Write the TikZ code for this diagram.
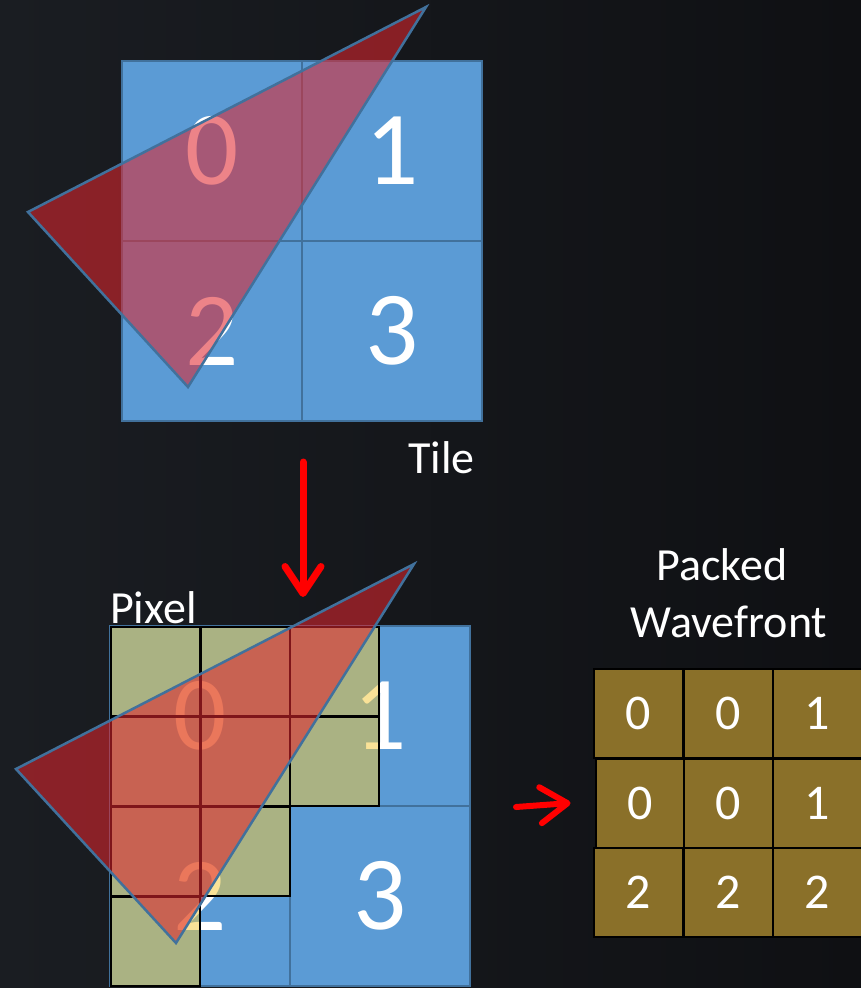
\documentclass[tikz,border=0pt]{standalone}
\usepackage{fontspec}
\setmainfont{Carlito}
\usetikzlibrary{arrows.meta}
\definecolor{bgL}{HTML}{1A1D22}
\definecolor{bgR}{HTML}{0F1013}
\definecolor{tileblue}{HTML}{5B9BD5}
\definecolor{tileedge}{HTML}{41719C}
\definecolor{trired}{HTML}{E0262E}
\definecolor{pixgold}{HTML}{F4C838}
\definecolor{wavegold}{HTML}{8A7029}
\begin{document}
\begin{tikzpicture}[x=1pt,y=-1pt,
 quad/.style={draw=tileedge, line width=1.5pt, fill=tileblue, minimum width=180pt, minimum height=180pt, inner sep=0pt, outer sep=0pt, text=white, font=\fontsize{105}{105}\selectfont},
 pix/.style={draw=black, line width=2pt, fill=pixgold, fill opacity=0.52, minimum size=89pt, inner sep=0pt, outer sep=0pt},
 tri/.style={fill=trired, fill opacity=0.57, draw=tileedge, line width=2.5pt, line join=miter},
 wcell/.style={draw=black, line width=2pt, fill=wavegold, minimum size=89pt, inner sep=0pt, outer sep=0pt, text=white, font=\fontsize{50}{50}\selectfont},
 lbl/.style={text=white, font=\fontsize{46}{46}\selectfont, inner sep=0pt},
 redarrow/.style={draw=red, line width=7pt, line cap=round, -{Straight Barb[length=27pt,width=36pt,round]}}
]
\useasboundingbox (0,0) rectangle (861,988);
\shade[left color=bgL, right color=bgR] (0,0) rectangle (861,988);

% ---- top tile
\node[quad] (t0) at (212,151) {0};
\node[quad] (t1) at (392,151) {1};
\node[quad] (t2) at (212,331) {2};
\node[quad] (t3) at (392,331) {3};
\coordinate (ta) at (426,7);
\coordinate (tb) at (28,212);
\coordinate (tc) at (188,387);
\draw[tri] (ta) -- (tb) -- (tc) -- cycle;
\node[lbl, anchor=base west] (tile) at (408,473) {Tile};

% ---- arrow down
\coordinate (d1) at (303,462);
\coordinate (d2) at (303,597);
\draw[redarrow] (d1) -- (d2);

% ---- bottom tile
\node[quad] (b0) at (200,716) {0};
\node[quad] (b1) at (380,716) {1};
\node[quad] (b2) at (200,896) {2};
\node[quad] (b3) at (380,896) {3};
\node[pix] (p00) at (155,671) {};
\node[pix] (p01) at (245,671) {};
\node[pix] (p02) at (334.5,671) {};
\node[pix] (p10) at (155,761) {};
\node[pix] (p11) at (245,761) {};
\node[pix] (p12) at (334.5,761) {};
\node[pix] (p20) at (155,851) {};
\node[pix] (p21) at (245,851) {};
\node[pix] (p30) at (155,941) {};
\coordinate (ba) at (414,564);
\coordinate (bb) at (16,769);
\coordinate (bc) at (176,943);
\draw[tri] (ba) -- (bb) -- (bc) -- cycle;
\node[lbl, anchor=base west] (pixel) at (110,623) {Pixel};

% ---- packed wavefront
\node[lbl, anchor=base] (packed) at (722,580) {Packed};
\node[lbl, anchor=base] (wave) at (729,637) {Wavefront};
\node[wcell] (w00) at (638.5,713) {0};
\node[wcell] (w01) at (728,713) {0};
\node[wcell] (w02) at (817.5,713) {1};
\node[wcell] (w10) at (640,803) {0};
\node[wcell] (w11) at (728,803) {0};
\node[wcell] (w12) at (817.5,803) {1};
\node[wcell] (w20) at (638.5,892.5) {2};
\node[wcell] (w21) at (728,892.5) {2};
\node[wcell] (w22) at (817.5,892.5) {2};

% ---- arrow right
\coordinate (r1) at (516,807);
\draw[redarrow, line width=6pt] (r1) -- ([xshift=-25pt]w10.west);
\end{tikzpicture}
\end{document}
